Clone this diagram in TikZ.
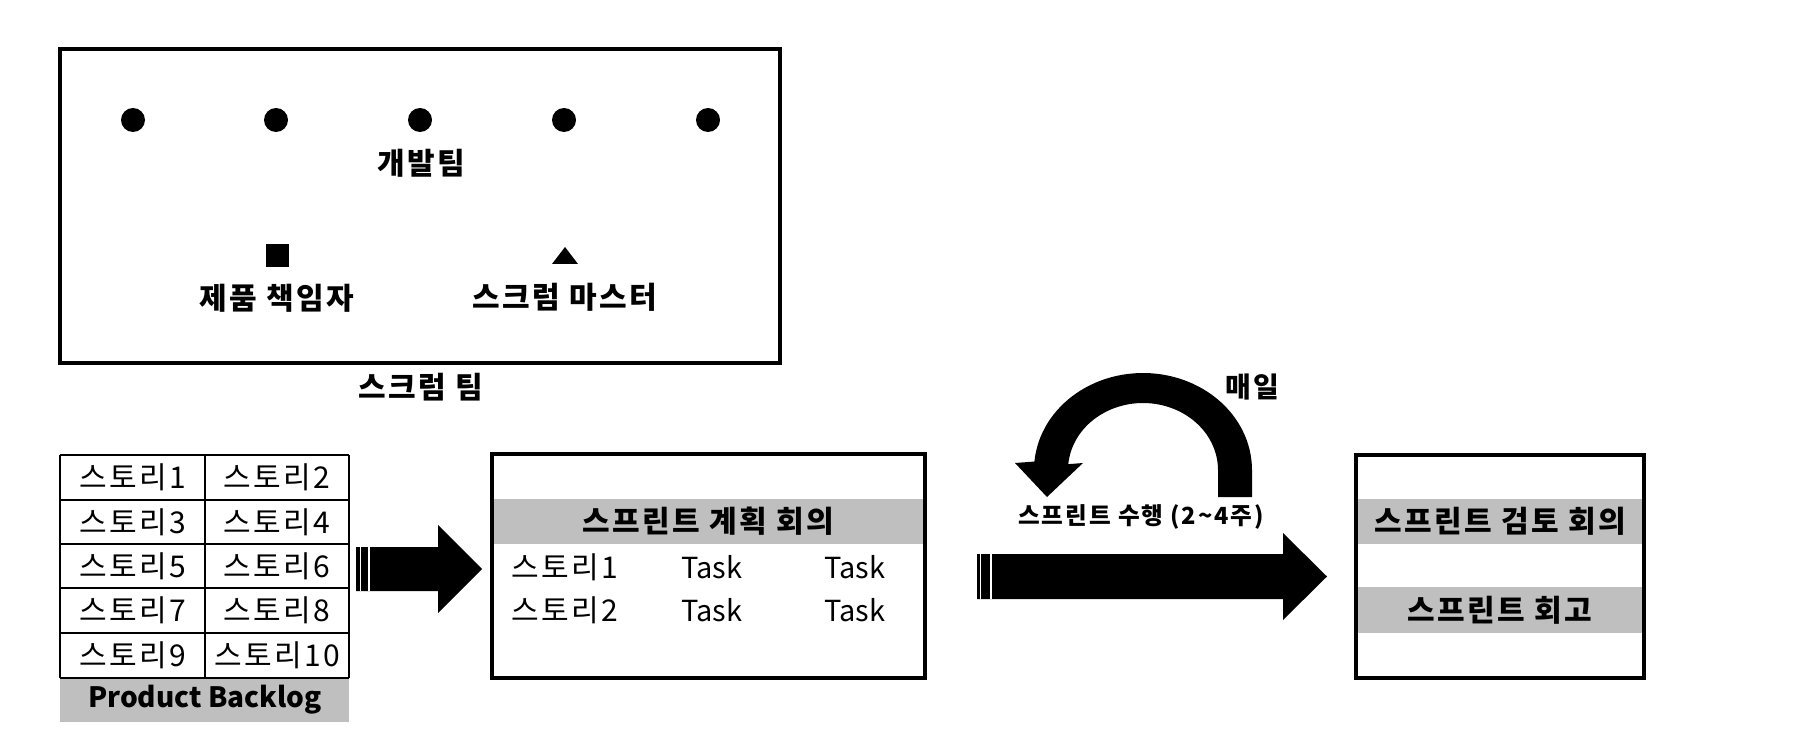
\documentclass[tikz,border=0pt]{standalone}
\usepackage{fontspec}
\setmainfont{Noto Sans CJK KR}[LetterSpace=8]
\newfontfamily\latinf{Noto Sans CJK KR}
\begin{document}
\begin{tikzpicture}[x=0.5pt,y=-0.5pt,
  txt/.style={inner sep=0pt, font=\fontsize{15}{18}\selectfont},
  btxt/.style={inner sep=0pt, font=\fontsize{15}{18}\selectfont\bfseries},
  ltxt/.style={inner sep=0pt, font=\latinf\fontsize{14.5}{17}\selectfont},
  stxt/.style={inner sep=0pt, font=\fontsize{11.8}{14}\selectfont\bfseries},
  band/.style={fill=black!25},
  dot/.style={circle, fill=black, inner sep=0pt, minimum size=12pt},
  sq/.style={rectangle, fill=black, inner sep=0pt, minimum size=11.5pt},
  frame/.style={draw=black, line width=1.6pt},
  grid/.style={draw=black, line width=0.85pt},
  stripe/.style={draw=white, line width=0.6pt}]
\useasboundingbox (0,0) rectangle (1794,754);

% ---- Scrum team box ----
\draw[frame, line width=2pt] (60,49) rectangle (780,363);
\foreach \i/\x in {1/133,2/276,3/420,4/564,5/708}
  \node[dot] (d\i) at (\x,120) {};
\node[btxt] (dev) at (421,163) {개발팀};
\node[sq] (posym) at (277,256) {};
\node[btxt] (po) at (277,298) {제품 책임자};
\fill (565,247) -- (578,264) -- (552,264) -- cycle;
\node[btxt] (sm) at (565,297) {스크럼 마스터};
\node[btxt] (team) at (421,387) {스크럼 팀};

% ---- Product backlog ----
\fill[band] (60,678) rectangle (349,722);
\foreach \y in {455,500,544,588,633,678}
  \draw[grid] (60,\y) -- (349,\y);
\draw[grid] (60,455) -- (60,678);
\draw[grid] (205,455) -- (205,678);
\draw[grid] (349,455) -- (349,678);
\foreach \r/\y in {0/477.5,1/522,2/566,3/610.5,4/655.5}{
  \pgfmathtruncatemacro{\a}{2*\r+1}
  \pgfmathtruncatemacro{\b}{2*\r+2}
  \node[txt] (s\a) at (132.5,\y) {스토리\a};
  \node[txt] (s\b) at (277,\y) {스토리\b};
}
\node[ltxt, font=\latinf\fontsize{14}{17}\selectfont\bfseries] (pb) at (205,700) {Product Backlog};

% ---- arrow 1 ----
\fill (356,547) -- (438,547) -- (438,525) -- (482,569) -- (438,613) -- (438,591) -- (356,591) -- cycle;
\draw[stripe] (360.5,547) -- (360.5,591);
\draw[stripe] (369,547) -- (369,591);

% ---- sprint planning box ----
\fill[band] (492,499) rectangle (925,544);
\draw[frame] (492,454) rectangle (925,678);
\node[btxt] (plan) at (708.5,521) {스프린트 계획 회의};
\node[txt] (p1) at (565,567) {스토리1};
\node[txt] (p2) at (565,610) {스토리2};
\node[ltxt] (t11) at (712,567) {Task};
\node[ltxt] (t12) at (855,567) {Task};
\node[ltxt] (t21) at (712,610) {Task};
\node[ltxt] (t22) at (855,610) {Task};

% ---- daily curved arrow ----
\fill (1252,497) -- (1252,470)
  -- plot[domain=0:175,samples=60] ({1143+109*cos(\x)},{470-97*sin(\x)})
  -- (1015,463) -- (1047,497) -- (1083,463)
  -- plot[domain=175:0,samples=60] ({1143+75*cos(\x)},{470-67*sin(\x)})
  -- (1218,497) -- cycle;
\node[btxt, font=\fontsize{14}{17}\selectfont\bfseries] (daily) at (1252,387) {매일};
\node[stxt] (run) at (1141,517) {스프린트 수행 (2\textasciitilde4주)};

% ---- arrow 2 ----
\fill (977,554) -- (1283,554) -- (1283,533) -- (1327,576.5) -- (1283,620) -- (1283,599) -- (977,599) -- cycle;
\draw[stripe] (980.5,554) -- (980.5,599);
\draw[stripe] (991,554) -- (991,599);

% ---- review box ----
\fill[band] (1356,499) rectangle (1644,544);
\fill[band] (1356,587) rectangle (1644,633);
\draw[frame] (1356,455) rectangle (1644,678);
\node[btxt] (rev) at (1500,521) {스프린트 검토 회의};
\node[btxt] (retro) at (1500,610) {스프린트 회고};
\end{tikzpicture}
\end{document}
